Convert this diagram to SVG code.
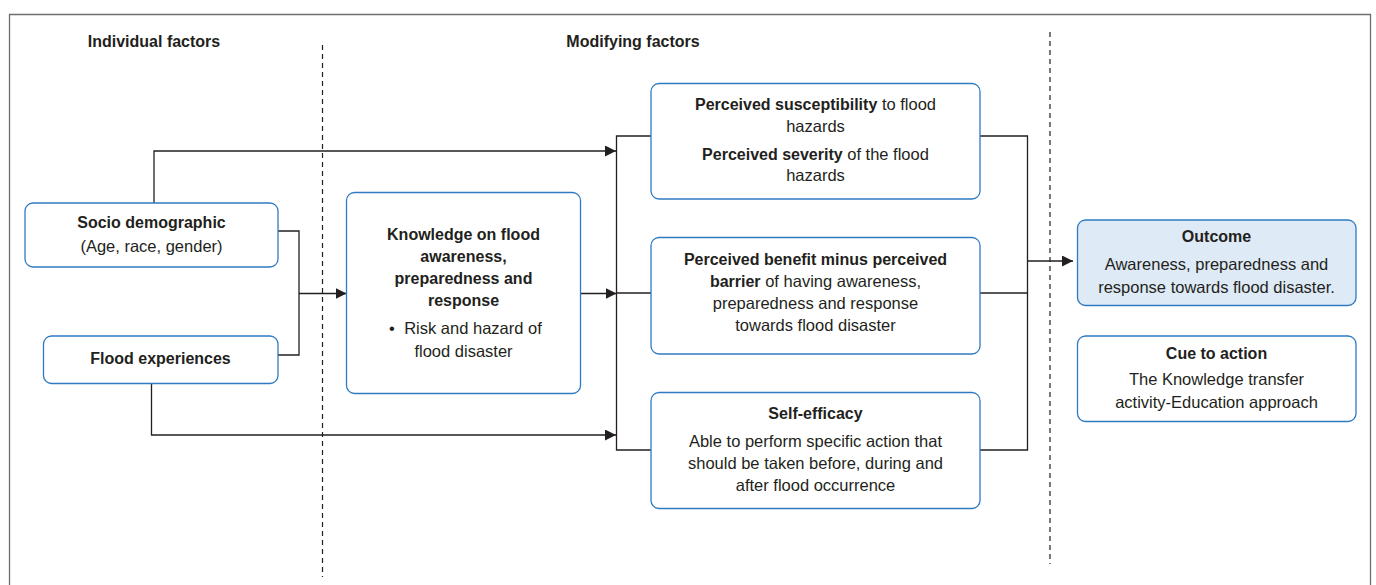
<svg xmlns="http://www.w3.org/2000/svg" width="1376" height="585" viewBox="0 0 1376 585">
<style>
  text { font-family: "Liberation Sans", Arial, sans-serif; fill: #231f20; font-size: 16.5px; text-anchor: middle; }
  .b { font-weight: bold; font-size: 16px; }
  .box { fill: #ffffff; stroke: #2e7bc4; stroke-width: 1.3; }
  .out { fill: #deeaf6; stroke: #2e7bc4; stroke-width: 1.3; }
  .con { fill: none; stroke: #231f20; stroke-width: 1.3; }
  .dash { fill: none; stroke: #231f20; stroke-width: 1.2; stroke-dasharray: 5 4; }
</style>
<defs>
  <marker id="arr" markerUnits="userSpaceOnUse" markerWidth="12" markerHeight="12" refX="11" refY="5.5" orient="auto">
    <path d="M0,0 L11,5.5 L0,11 z" fill="#231f20"/>
  </marker>
</defs>
<rect x="0" y="0" width="1376" height="585" fill="#ffffff"/>
<path d="M9.5,600 V14.5 H1370.5 V600" fill="none" stroke="#6d6e71" stroke-width="1.3"/>

<g id="headings">
  <text class="b" x="154" y="47">Individual factors</text>
  <text class="b" x="633" y="47">Modifying factors</text>
</g>
<g id="dividers">
  <line class="dash" x1="322.5" y1="45" x2="322.5" y2="577"/>
  <line class="dash" x1="1050" y1="32" x2="1050" y2="564"/>
</g>

<g id="connectors">
  <path class="con" d="M154,203 V151 H616" marker-end="url(#arr)"/>
  <path class="con" d="M278,231 H299 V355 H278"/>
  <path class="con" d="M299,293.5 H346.5" marker-end="url(#arr)"/>
  <path class="con" d="M581,293.5 H616.5" marker-end="url(#arr)"/>
  <path class="con" d="M151.5,383 V435 H616" marker-end="url(#arr)"/>
  <path class="con" d="M651,136 H616.5 V450 H651"/>
  <path class="con" d="M616.5,293 H651"/>
  <path class="con" d="M980,136 H1027.5 V450 H980"/>
  <path class="con" d="M980,293 H1027.5"/>
  <path class="con" d="M1027.5,261 H1073" marker-end="url(#arr)"/>
</g>

<g id="socio">
  <rect class="box" x="25" y="203" width="253" height="64" rx="8"/>
  <text class="b" x="151.5" y="228">Socio demographic</text>
  <text x="151.5" y="252">(Age, race, gender)</text>
</g>
<g id="flood-exp">
  <rect class="box" x="43.5" y="336" width="234.5" height="47.5" rx="8"/>
  <text class="b" x="160.5" y="364">Flood experiences</text>
</g>
<g id="knowledge">
  <rect class="box" x="346.5" y="192.5" width="234" height="201" rx="8"/>
  <text class="b" x="463.5" y="239.5">Knowledge on flood</text>
  <text class="b" x="463.5" y="261.5">awareness,</text>
  <text class="b" x="463.5" y="284">preparedness and</text>
  <text class="b" x="463.5" y="306">response</text>
  <text x="392" y="334">•</text>
  <text x="473" y="334">Risk and hazard of</text>
  <text x="463.5" y="356.5">flood disaster</text>
</g>
<g id="susceptibility">
  <rect class="box" x="651" y="83.5" width="329" height="115.5" rx="8"/>
  <text x="815.5" y="109.5"><tspan class="b">Perceived susceptibility</tspan> to flood</text>
  <text x="815.5" y="131.5">hazards</text>
  <text x="815.5" y="159.5"><tspan class="b">Perceived severity</tspan> of the flood</text>
  <text x="815.5" y="181">hazards</text>
</g>
<g id="benefit">
  <rect class="box" x="651" y="237.5" width="329" height="116.5" rx="8"/>
  <text class="b" x="815.5" y="264.5">Perceived benefit minus perceived</text>
  <text x="815.5" y="286.5"><tspan class="b">barrier</tspan> of having awareness,</text>
  <text x="815.5" y="309">preparedness and response</text>
  <text x="815.5" y="331">towards flood disaster</text>
</g>
<g id="self-efficacy">
  <rect class="box" x="651" y="392.5" width="329" height="116" rx="8"/>
  <text class="b" x="815.5" y="418.5">Self-efficacy</text>
  <text x="815.5" y="446.5">Able to perform specific action that</text>
  <text x="815.5" y="468.5">should be taken before, during and</text>
  <text x="815.5" y="491">after flood occurrence</text>
</g>
<g id="outcome">
  <rect class="out" x="1077.5" y="220" width="278.5" height="85.5" rx="8"/>
  <text class="b" x="1216.5" y="241.5">Outcome</text>
  <text x="1216.5" y="269.5">Awareness, preparedness and</text>
  <text x="1216.5" y="292.5">response towards flood disaster.</text>
</g>
<g id="cue">
  <rect class="box" x="1077.5" y="336" width="278.5" height="85.5" rx="8"/>
  <text class="b" x="1216.5" y="358.5">Cue to action</text>
  <text x="1216.5" y="385">The Knowledge transfer</text>
  <text x="1216.5" y="407.5">activity-Education approach</text>
</g>
</svg>
